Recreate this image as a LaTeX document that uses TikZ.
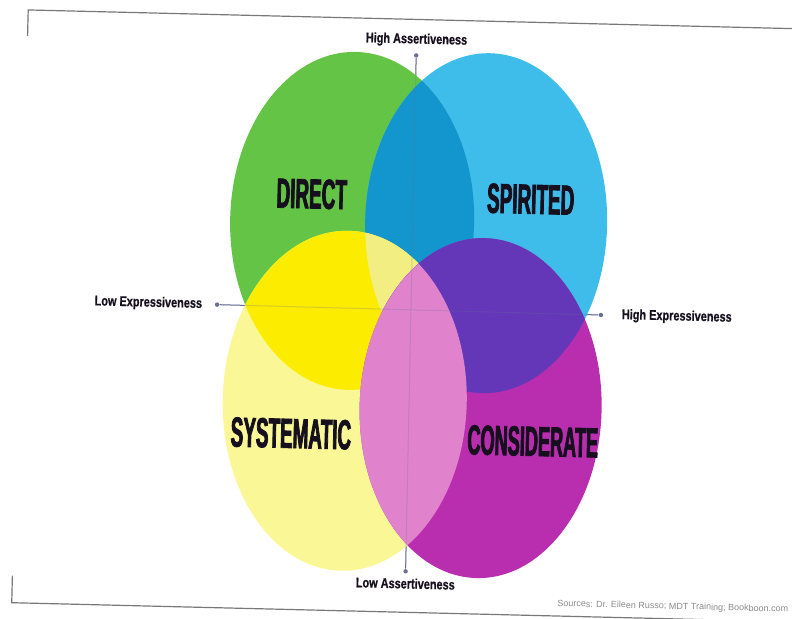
\documentclass[tikz,border=0pt]{standalone}
\usepackage{fontspec}
\setmainfont{Liberation Sans}
\newfontfamily\stylefont{Liberation Sans}[UprightFont=* Bold, FakeStretch=0.45, FakeBold=1.8]
\newfontfamily\axisfont{Liberation Sans}[UprightFont=* Bold, FakeStretch=0.78, FakeBold=0.6]
\usepackage{tikz}
\usetikzlibrary{positioning}
\usepackage{xcolor}

% colours of the four styles and of their overlaps
\definecolor{directgreen}{RGB}{100,196,70}
\definecolor{spiritedblue}{RGB}{62,188,234}
\definecolor{directspirited}{RGB}{18,150,205}
\definecolor{systyellow}{RGB}{250,248,150}
\definecolor{systdirect}{RGB}{252,236,0}
\definecolor{systcentre}{RGB}{242,238,130}
\definecolor{considmagenta}{RGB}{185,45,175}
\definecolor{considspirited}{RGB}{100,55,185}
\definecolor{considsyst}{RGB}{225,130,205}
\definecolor{axisgray}{RGB}{105,110,150}
\definecolor{labelblack}{RGB}{22,16,30}
\definecolor{framegray}{RGB}{120,120,120}

\def\directpath{(350,222) ellipse [x radius=122, y radius=169]}
\def\spiritedpath{(484,221) ellipse [x radius=121, y radius=170]}
\def\systpath{(347,402) ellipse [x radius=122, y radius=170]}
\def\considpath{(483,406) ellipse [x radius=121, y radius=170]}

\begin{document}
\begin{tikzpicture}[x=0.5pt, y=-0.5pt,
    axisline/.style={draw=axisgray, line width=0.5pt},
    axisdot/.style={circle, fill=axisgray, inner sep=0pt, minimum size=2.2pt},
    axislabel/.style={font=\axisfont\fontsize{7}{8}\selectfont, text=labelblack, inner sep=1pt, transform shape},
    stylelabel/.style={font=\stylefont\fontsize{21}{22}\selectfont, text=labelblack, inner sep=0pt, transform shape}]

    \clip (0,0) rectangle (792,618);
    \fill[white] (0,0) rectangle (792,618);

    \begin{scope}[rotate around={-1.4:(396,309)}]
        % page frame
        \draw[framegray, line width=0.6pt] (21,45) -- (21,19) -- (900,19);
        \draw[framegray, line width=0.6pt] (19,585) -- (19,612) -- (900,612);

        % the two axes, ends first
        \node[axisdot] (HA) at (410,55) {};
        \node[axisdot] (LA) at (412,571) {};
        \node[axisdot] (LE) at (217,309) {};
        \node[axisdot] (HE) at (601,310) {};
        \draw[axisline] (HA) -- (LA);
        \draw[axisline] (LE) -- (HE);

        % top ellipses
        \fill[directgreen] \directpath;
        \fill[spiritedblue] \spiritedpath;
        \begin{scope}
            \clip \directpath;
            \fill[directspirited] \spiritedpath;
        \end{scope}

        % systematic over them
        \fill[systyellow] \systpath;
        \begin{scope}
            \clip \systpath;
            \fill[systdirect] \directpath;
        \end{scope}
        \begin{scope}
            \clip \systpath;
            \clip \directpath;
            \fill[systcentre] \spiritedpath;
        \end{scope}

        % considerate on top
        \fill[considmagenta] \considpath;
        \begin{scope}
            \clip \considpath;
            \fill[considspirited] \spiritedpath;
        \end{scope}
        \begin{scope}
            \clip \considpath;
            \fill[considsyst] \systpath;
        \end{scope}

        % axes again, faint through the colour
        \draw[axisline, opacity=0.25] (HA) -- (LA);
        \draw[axisline, opacity=0.25] (LE) -- (HE);

        \node[axislabel, above=2pt of HA] (HAtext) {High Assertiveness};
        \node[axislabel, below=1pt of LA] (LAtext) {Low Assertiveness};
        \node[axislabel, left=5pt of LE] (LEtext) {Low Expressiveness};
        \node[axislabel, right=8pt of HE] (HEtext) {High Expressiveness};

        % style names
        \node[stylelabel] (direct) at (309,196) {DIRECT};
        \node[stylelabel] (spirited) at (528,196) {SPIRITED};
        \node[stylelabel] (systematic) at (294,436) {SYSTEMATIC};
        \node[stylelabel, xscale=0.96] (considerate) at (536,438) {CONSIDERATE};

        \node[font=\fontsize{4.5}{5}\selectfont, text=black!45, transform shape]
            (sources) at (680,600) {Sources: Dr. Eileen Russo; MDT Training; Bookboon.com};
    \end{scope}
\end{tikzpicture}
\end{document}
